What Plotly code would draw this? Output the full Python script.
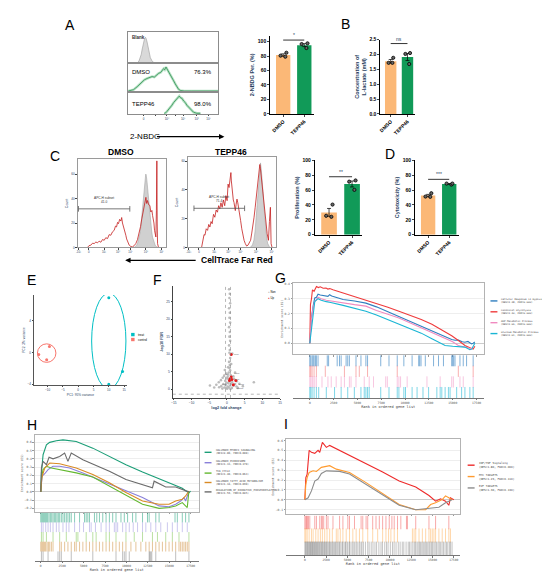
import numpy as np
import plotly.graph_objects as go

W, H = 550, 572
SANS = "Liberation Sans, Arial, sans-serif"
MONO = "DejaVu Sans Mono, monospace"

# ---------------- data ----------------
groups = ["DMSO", "TEPP46"]
bar_colors = ["#fbb877", "#119a58"]

# A / B / D bar charts (individual replicates)
nbdg_dmso = [84.5, 80.5, 79.0]
nbdg_tepp = [97.5, 96.5, 91.0]
lact_dmso = [1.89, 1.72, 1.72]
lact_tepp = [2.05, 2.02, 1.68]
prolif_dmso = [40.5, 25.4, 24.0]
prolif_tepp = [73.0, 71.4, 60.3]
cyto_dmso = [55.8, 50.9, 51.3]
cyto_tepp = [68.8, 67.4, 68.8]

# A: 2-NBDG histograms (fraction of row height)
blank_x = [8, 10, 12, 13.6, 14.5, 15.4, 16.3, 17.3, 18.2, 19.1, 20, 21, 21.9, 22.8, 23.7, 24.6, 26.4, 28.3, 31, 34]
blank_y = [0, 0.02, 0.08, 0.19, 0.3, 0.45, 0.6, 0.76, 0.83, 0.87, 0.82, 0.71, 0.58, 0.45, 0.31, 0.19, 0.09, 0.03, 0.01, 0]
nb_dmso_x = [0, 2, 6, 10, 13, 15.4, 18, 21, 24, 26.5, 29, 31, 33.8, 36, 37.5, 39.3, 40.5, 41.9, 43, 44.9,
             46.5, 48.5, 50.3, 52.2, 54, 55.9, 58, 62, 70, 80, 90, 100]
nb_dmso_y = [0.04, 0.05, 0.09, 0.2, 0.3, 0.4, 0.45, 0.5, 0.54, 0.57, 0.55, 0.62, 0.69, 0.72, 0.8, 0.86, 0.82, 0.92, 0.85, 0.75,
             0.66, 0.52, 0.42, 0.3, 0.2, 0.1, 0.06, 0.04, 0.04, 0.04, 0.04, 0.04]
nb_tepp_x = [40, 41.2, 43, 45, 46.7, 48.5, 50.4, 52, 54, 55.2, 56.6, 58, 59.6, 61.5, 63.2, 65, 66.9, 69.5, 72.4, 76.1, 80]
nb_tepp_y = [0.03, 0.04, 0.12, 0.22, 0.33, 0.42, 0.55, 0.63, 0.75, 0.8, 0.86, 0.78, 0.75, 0.62, 0.55, 0.42, 0.33, 0.18, 0.08, 0.03, 0.03]
nb_pct = ["76.3%", "98.0%"]

# C: CellTrace histograms (counts)
ct_dmso_x = [11.3, 13, 15.1, 17, 18.9, 20.8, 22.6, 24.5, 26.4, 28.3, 30.2, 32, 34, 35.8, 37.7, 39.6, 41.5, 43, 44.2, 45.3,
             46.4, 47.7, 49.1, 50, 50.9, 51.8, 52.8, 53.7, 54.7, 55.6, 56.6, 57.5, 58.5, 60.4, 62.3, 64.1, 66, 67.9, 69.8,
             71.3, 72.8, 74.2, 75.5, 76.4, 77.4, 78.3, 79.2, 80.5, 81.9, 83, 84.2, 85, 85.7, 86.5, 87.2, 88, 88.7, 89.3,
             89.8, 90.2, 90.6, 91.7]
ct_dmso_y = [0, 1.5, 1.9, 3.5, 3.2, 4.5, 3.8, 5.2, 4.3, 6.5, 5.9, 8.0, 7.3, 10.5, 10.0, 12.8, 14.0, 17.5, 16.8, 20.5,
             19.5, 23.0, 21.6, 24.5, 20.0, 18.0, 15.4, 13.0, 10.0, 7.0, 4.6, 3.0, 1.9, 0.8, 0.5, 1.5, 3.2, 6.5, 11.4,
             17.0, 23.5, 30.0, 34.3, 40.0, 41.0, 36.0, 38.4, 35.0, 34.3, 29.0, 30.3, 26.0, 23.5, 20.0, 14.0, 11.0, 8.6,
             30.0, 70.8, 20.0, 3.2, 0]
ct_dmso_ctrl_x = [64, 65.3, 66.6, 67.9, 69.3, 70.6, 71.7, 72.8, 73.8, 74.7, 75.7, 76.6, 77.2, 77.7, 78.5, 79.2, 80.2,
                  81.1, 82, 83, 84, 84.9, 86.4, 87.9, 89.3, 90.6]
ct_dmso_ctrl_y = [0, 0.5, 1.5, 3.2, 6.5, 11.4, 17, 24.9, 33, 41, 50, 57.3, 60, 59.5, 55, 49.2, 41, 33, 26, 19.5, 13,
                  8.6, 4, 1.9, 0.8, 0]
ct_tepp_x = [15.7, 16.5, 17.6, 18.5, 19.5, 21, 22.5, 23.8, 25.1, 26.4, 27.7, 29.2, 30.7, 32.2, 33.7, 35, 36.3, 37.6,
             39, 40.4, 41.9, 43.2, 44.6, 45.7, 46.8, 47.6, 48.3, 48.9, 49.4, 50.2, 50.9, 51.6, 52.4, 53.1, 53.9, 54.8,
             55.8, 56.7, 57.7, 58.8, 59.9, 61.2, 62.5, 63.8, 65.2, 66.7, 68.2, 69.7, 71.2, 72.5, 73.8, 75.1, 76.4,
             77.9, 79.4, 80.5, 81.6, 82.3, 83.1, 84.2, 85.4, 86.5, 87.6, 88.7, 89.9, 90.6, 91.4, 92.5, 93.6, 94.4, 95.5]
ct_tepp_y = [0, 3, 5, 9, 8.5, 13, 11.9, 16, 14.2, 18, 16.5, 23, 21, 26, 24.5, 29, 26.7, 31, 27.9, 33, 29, 36, 32.5,
             44, 41.6, 48, 50.7, 52, 46.2, 40, 37, 33, 31.3, 28, 25.6, 30, 33.6, 31, 27.9, 24, 18.7, 13, 8.5, 5, 2.7,
             1, 1.6, 3, 5, 10, 14.2, 21, 27.9, 36, 46.2, 52, 57.6, 55, 50.7, 44, 37, 31, 25.6, 17, 9.6, 6, 5, 18,
             27.9, 2.7, 0]
ct_tepp_ctrl_x = [70, 71.9, 73.4, 74.9, 76.2, 77.5, 78.5, 79.4, 80.4, 81.3, 81.9, 82.4, 83.3, 84.3, 85.2, 86.1, 87.3,
                  88.4, 89.5, 90.6, 91.8, 92.9]
ct_tepp_ctrl_y = [0, 0.5, 2, 5, 11, 21, 29, 37, 47, 55.3, 58, 58.7, 54, 48.5, 39, 30.2, 20, 11.9, 6, 2.7, 1, 0]
gate_dmso = [1.1, 59.2, 31.6]
gate_tepp = [7.1, 64.4, 27.2]
gate_pct = ["41.0", "71.4"]

# E: PCA
pca_groups = ["treat", "control"]
pca_colors = ["#00BFC4", "#F8766D"]
pc1_treat = [10.0, 14.5, 10.0]
pc2_treat = [6.9, -2.4, -4.0]
pc1_ctrl = [-9.4, -12.9, -10.3]
pc2_ctrl = [0.75, -0.25, -0.9]

# F: volcano
vol_x = [0.6, 0.8, 0.7, 0.9, 0.6, 0.8, 0.7, 0.9, 0.6, 0.8, 0.7, 0.9, 0.6, 0.8, 0.7, 1.5, 0.9, 0.6, 0.8, 0.7,
         0.9, 0.5, -0.2, 0.3, 1.1, -0.8, 0.2, 1.8, -1.2, 0.0, 0.5, 2.0, -1.7, -0.5, 0.8, 1.5, 2.8, -2.3, -0.1,
         0.4, 1.2, -1.0, 2.3, 3.5, -3.0, -0.4, 0.9, 1.9, -1.6, 0.2, 2.7, -2.2, -0.7, 0.6, 1.4, -0.2, 3.1, -1.3,
         0.1, 1.0, -4.8, 7.6, -3.6, 4.5, 2.3, -0.6, 0.3, 1.2]
vol_y = [28.5, 27.2, 26.0, 24.5, 23.1, 21.8, 20.4, 19.0, 17.7, 16.3, 15.0, 13.8, 12.5, 11.2, 10.4, 10.2, 8.9, 7.8,
         6.9, 6.1, 5.4, 4.8, 4.5, 4.2, 4.0, 3.8, 3.6, 3.7, 3.3, 3.1, 2.9, 3.0, 2.6, 2.4, 2.2, 2.1, 2.3, 2.0, 1.9,
         1.7, 1.6, 1.5, 1.5, 1.6, 1.3, 1.2, 1.1, 1.0, 0.9, 0.8, 0.8, 0.6, 0.5, 0.5, 0.4, 0.3, 0.4, 0.2, 0.15,
         0.1, 1.1, 2.0, 0.5, 0.9, 4.8, 5.5, 6.3, 7.2]
up_x = [1.2, 0.9, 1.2, 1.4, 2.5, 1.8, 0.7]
up_y = [9.9, 3.0, 3.5, 2.8, 2.5, 1.3, 2.5]
up_genes = ["Pkm", "Hk2", "Ldha", "Pfkp", "Eno1", "Slc2a1", "Tpi1"]
fc_cuts = [-0.4, 1.0]
fdr_line = -1.4

# GSEA shared
rank_ticks = [0, 2500, 5000, 7500, 10000, 12500, 15000, 17500]

# G
g_names = ["Cellular Response to Hypoxia", "Canonical Glycolysis", "ADP Metabolic Process", "Glucose Metabolic Process"]
g_stats = ["(NES=2.28, FDR=0.000)", "(NES=2.20, FDR=0.000)", "(NES=2.06, FDR=0.000)", "(NES=2.01, FDR=0.000)"]
g_hyp_rank = [0, 100, 173, 350, 520, 700, 866, 1100, 1386, 1700, 1906, 2079, 2300, 3500, 4700, 5890, 7000, 8200,
              9356, 10500, 11700, 12820, 13800, 14500, 14900, 15250, 15600, 16000, 16290, 16600, 16980, 17150, 17325]
g_hyp_es = [0, 0.1, 0.17, 0.25, 0.305, 0.31, 0.33, 0.325, 0.32, 0.318, 0.316, 0.327, 0.318, 0.295, 0.285, 0.27,
            0.245, 0.212, 0.18, 0.148, 0.115, 0.084, 0.055, 0.035, 0.025, 0.02, 0.022, 0.01, 0.007, 0.012, -0.005, 0.0, 0.008]
g_gly_rank = [0, 70, 180, 280, 450, 700, 900, 1100, 1400, 1700, 1900, 2100, 2430, 3500, 4700, 5900, 7000, 8200,
              9360, 10500, 11700, 12820, 13900, 14900, 15600, 16290, 16800, 16980, 17150, 17330]
g_gly_es = [0, 0.26, 0.30, 0.36, 0.35, 0.382, 0.375, 0.38, 0.37, 0.372, 0.365, 0.368, 0.36, 0.338, 0.318, 0.294,
            0.27, 0.243, 0.216, 0.19, 0.16, 0.128, 0.09, 0.05, 0.018, -0.015, -0.03, -0.033, -0.04, -0.02]
g_adp_rank = [0, 150, 347, 520, 866, 1200, 1733, 2200, 3500, 4700, 5890, 7000, 8200, 9356, 10500, 11700, 12820,
              14000, 15000, 15593, 16300, 16980, 17150]
g_adp_es = [0, 0.15, 0.24, 0.28, 0.31, 0.30, 0.29, 0.285, 0.27, 0.26, 0.25, 0.22, 0.195, 0.17, 0.138, 0.105, 0.073,
            0.04, 0.01, -0.015, -0.025, -0.037, -0.025]
g_glu_rank = [0, 173, 350, 520, 866, 1200, 1733, 2200, 3500, 4700, 5890, 7000, 8200, 9356, 10500, 11700, 12820,
              13500, 14207, 15000, 15800, 16286, 16806, 17000, 17325]
g_glu_es = [0, 0.1, 0.22, 0.28, 0.30, 0.29, 0.28, 0.275, 0.255, 0.235, 0.216, 0.19, 0.16, 0.128, 0.1, 0.068, 0.03,
            0.01, -0.015, -0.02, -0.026, -0.026, -0.044, -0.04, 0.0]
g_hits_hyp = [0, 104, 243, 347, 450, 589, 693, 866, 1836, 1975, 2876, 3119, 3292, 3812, 3985, 4158, 4851, 5371, 5891,
              6064, 7450, 8316, 9182, 9875, 10742, 11435, 11538, 11677, 12128, 12994, 13514, 14033, 14900, 15003,
              15107, 15246, 15766, 16112, 16459, 17152]
g_hits_gly = [0, 104, 243, 450, 693, 1629, 3638, 4851, 5198, 6064, 9182, 15593, 17152]
g_hits_adp = [0, 104, 243, 347, 520, 693, 1282, 1906, 2252, 2772, 3292, 3638, 4158, 4331, 4851, 5717, 6237, 6688,
              7970, 8143, 9182, 9355, 9528, 10222, 12301, 13687, 14900, 15073, 15766, 16112, 17152]
g_hits_glu = [0, 104, 243, 450, 693, 936, 1733, 2599, 3292, 3985, 4678, 5371, 5717, 5891, 6064, 6237, 7450, 8316,
              9182, 9355, 9875, 10049, 10742, 11262, 11885, 12474, 13340, 13687, 13860, 14207, 14553, 14727, 15419,
              15939, 16286, 16806, 17152]

# H
h_names = ["HALLMARK_MTORC1_SIGNALING", "HALLMARK_PEROXISOME", "TCA_CYCLE", "HALLMARK_FATTY_ACID_METABOLISM",
           "REGULATION_OF_OXIDATIVE_PHOSPHORYLATION"]
h_stats = ["(NES=2.00, FDR=0.000)", "(NES=1.33, FDR=0.170)", "(NES=1.40, FDR=0.063)", "(NES=1.34, FDR=0.090)",
           "(NES=1.59, FDR=0.085)"]
h_mtor_rank = [0, 77, 271, 658, 1045, 1819, 2593, 4141, 6076, 8011, 9946, 11881, 13816, 15751, 16525, 17105, 17299, 17490]
h_mtor_es = [0, 0.23, 0.45, 0.57, 0.60, 0.62, 0.63, 0.61, 0.53, 0.43, 0.33, 0.24, 0.16, 0.08, 0.044, 0.0, -0.01, 0.01]
h_perox_rank = [0, 155, 464, 851, 1432, 2206, 3367, 4915, 7237, 9946, 11881, 13816, 14977, 15751, 16331, 16718, 16912, 17299]
h_perox_es = [0, 0.19, 0.22, 0.27, 0.31, 0.31, 0.29, 0.23, 0.13, 0.012, -0.068, -0.17, -0.18, -0.15, -0.11, -0.07, -0.11, 0.01]
h_tca_rank = [0, 116, 271, 658, 1238, 2206, 4141, 6076, 8011, 9946, 11881, 13816, 14977, 15751, 16525, 17105, 17299]
h_tca_es = [0, 0.19, 0.27, 0.31, 0.29, 0.27, 0.23, 0.18, 0.07, -0.05, -0.15, -0.20, -0.19, -0.17, -0.13, -0.19, 0.01]
h_fatty_rank = [0, 116, 464, 1045, 2206, 4141, 6076, 8011, 9946, 11881, 13816, 14977, 15751, 16525, 16912, 17299]
h_fatty_es = [0, 0.17, 0.29, 0.35, 0.34, 0.29, 0.21, 0.11, -0.008, -0.11, -0.15, -0.15, -0.11, -0.09, -0.05, 0.01]
h_oxph_rank = [0, 77, 271, 658, 967, 1432, 2206, 2786, 3173, 3560, 4915, 8011, 9946, 11881, 13042, 13236, 13816, 14590, 15751, 16525, 17299]
h_oxph_es = [0, 0.29, 0.37, 0.33, 0.42, 0.40, 0.43, 0.47, 0.37, 0.47, 0.39, 0.25, 0.15, 0.09, 0.05, 0.13, 0.10, 0.06, 0.06, 0.03, 0.0]
h_hits_mtor = [0, 116, 232, 348, 464, 580, 697, 813, 967, 1122, 1277, 1432, 1587, 1741, 1896, 2051, 2206, 2399, 2593,
               2786, 2980, 3173, 3367, 3560, 3947, 4528, 5108, 5302, 5495, 5689, 6269, 6540, 6850, 7237, 7624, 8011,
               8398, 8785, 9365, 9752, 10139, 10720, 11107, 11881, 12461, 12655, 13429, 13816, 15674, 15944, 16525,
               16912, 17299]
h_hits_perox = [77, 271, 580, 851, 1122, 1432, 1819, 2128, 2593, 2980, 3290, 3947, 4528, 4992, 5689, 5882, 6385,
                7044, 7624, 8011, 8591, 8785, 8978, 9559, 9946, 10333, 10797, 11300, 11881, 12268, 12848, 13429,
                14009, 14783, 15364, 15944, 16525, 17105]
h_hits_tca = [77, 271, 658, 1432, 2206, 2980, 4141, 4335, 5302, 6076, 6463, 7624, 8011, 8785, 9946, 10913, 11881,
              13042, 13622, 14590, 15364, 16138, 17299]
h_hits_fatty = [0, 116, 232, 348, 464, 580, 735, 890, 1045, 1238, 1432, 2206, 2399, 2786, 3173, 3560, 3947, 4141,
                4528, 4915, 5302, 5689, 6076, 6463, 6850, 7237, 7624, 8011, 8398, 8785, 9172, 9559, 9946, 10526,
                11107, 11687, 12268, 12655, 13042, 13429, 13816, 14203, 14590, 14977, 15364, 15751, 16138, 16331,
                16525, 16718, 16912, 17105, 17299]
h_hits_oxph = [77, 271, 851, 2012, 2206, 2399, 3560, 6076, 8785, 9559, 9752, 9946, 10333, 12655, 12732, 12848,
               12964, 13429, 15751, 17299]

# I
i_names = ["INF/TNF Signaling", "MYC TARGETS", "E2F TARGETS"]
i_stats = ["(NES=1.80, FDR=0.000)", "(NES=1.23, FDR=0.110)", "(NES=1.30, FDR=0.130)"]
i_tnf_rank = [0, 117, 272, 506, 778, 1167, 1556, 1751, 2062, 2529, 2918, 4085, 5252, 7197, 9142, 11087, 13032,
              14588, 15366, 15949, 16533, 16922, 17116, 17505]
i_tnf_es = [0, 0.225, 0.26, 0.50, 0.48, 0.47, 0.50, 0.48, 0.58, 0.53, 0.55, 0.50, 0.45, 0.36, 0.28, 0.19, 0.13,
            0.044, -0.014, 0.01, -0.014, -0.055, 0.02, 0.0]
i_myc_rank = [0, 117, 272, 506, 972, 1362, 1945, 2529, 2918, 3696, 5252, 7197, 9142, 11087, 13032, 14199, 14782,
              15366, 16144, 16533, 16922, 17311]
i_myc_es = [0, 0.157, 0.225, 0.276, 0.293, 0.287, 0.328, 0.335, 0.345, 0.31, 0.276, 0.174, 0.061, -0.048, -0.10,
            -0.10, -0.048, -0.03, 0.003, 0.04, 0.02, 0.0]
i_e2f_rank = [0, 195, 389, 778, 1167, 1556, 1945, 2529, 3307, 4085, 5252, 7197, 9142, 11087, 13032, 14199, 14977,
              15755, 16533, 16922, 17311]
i_e2f_es = [0, 0.014, 0.02, 0.09, 0.19, 0.21, 0.266, 0.293, 0.293, 0.287, 0.26, 0.157, 0.048, -0.055, -0.10,
            -0.09, -0.082, -0.075, -0.03, -0.014, 0.0]
i_hits_tnf = [0, 117, 195, 311, 428, 583, 1167, 1362, 1751, 1945, 2062, 2217, 2529, 2723, 3307, 4085, 4474, 5057,
              5252, 5835, 6613, 6808, 7197, 7391, 7975, 8364, 8753, 9142, 9531, 9920, 10231, 10503, 10892, 11281,
              11942, 12059, 13032, 14588, 15366, 16922]
i_hits_myc = [0, 117, 272, 506, 778, 972, 1284, 1556, 1828, 2062, 2334, 2607, 2918, 3229, 3696, 3890, 4163, 4474,
              4863, 5252, 5640, 6030, 6419, 6808, 7391, 7975, 8558, 9142, 9531, 9842, 10114, 10503, 10892, 12642,
              12837, 13032, 13420, 13810, 14199, 14588, 14782, 14977, 15171, 15366, 15755, 16144, 16533, 16922, 17116]
i_hits_e2f = [0, 90, 160, 250, 330, 390, 480, 560, 650, 700, 790, 880, 930, 1010, 1120, 1180, 1270, 1350, 1430,
              1500, 1620, 1690, 1770, 1880, 1950, 2060, 2130, 2240, 2310, 2420, 2530, 2600, 2710, 2830, 2900, 3010,
              3150, 3270, 3340, 3480, 3610, 3700, 3850, 3990, 4080, 4230, 4390, 4460, 4620, 4780, 4850, 5010, 5190,
              5260, 5430, 5620, 5770, 5900, 6090, 6240, 6420, 6600, 6710, 6880, 7120, 7390, 7560, 7800, 8010, 8240,
              8430, 8700, 8950, 9120, 9390, 9600, 9780, 10050, 10300, 10490, 10720, 10980, 11200, 11450, 11630,
              11900, 12150, 12300, 12480, 12690, 12870, 13010, 13180, 13320, 13470, 13600, 13750, 13890, 14020,
              14160, 14310, 14450, 14600, 14720, 14880, 15010, 15170, 15320, 15480, 15650, 15800, 15960, 16130,
              16300, 16480, 16650, 16800, 16990, 17120, 17300]

# ---------------- helpers ----------------
fig = go.Figure()
annotations = []
shapes = []
layout_axes = {}


def dx(a, b):
    return [a / W, b / W]


def dy(top, bottom):
    return [1 - bottom / H, 1 - top / H]


def refs(n):
    return ("x", "y") if n == 1 else (f"x{n}", f"y{n}")


def set_axes(n, xd, yd, xkw, ykw):
    xr, yr = refs(n)
    suf = "" if n == 1 else str(n)
    layout_axes["xaxis" + suf] = dict(domain=xd, anchor=yr, **xkw)
    layout_axes["yaxis" + suf] = dict(domain=yd, anchor=xr, **ykw)


def text(px, py, s, size=6, color="black", xanchor="left", family=SANS, weight="normal", **kw):
    annotations.append(dict(x=px / W, y=1 - py / H, xref="paper", yref="paper", text=s, showarrow=False,
                            xanchor=xanchor, yanchor="middle", font=dict(size=size, color=color, family=family,
                                                                         weight=weight), **kw))


def arrow(head_px, tail_px, py):
    # plain arrow drawn by an annotation, tail given as a pixel offset
    annotations.append(dict(x=head_px / W, y=1 - py / H, xref="paper", yref="paper", ax=tail_px - head_px, ay=0,
                            axref="pixel", ayref="pixel", text="", showarrow=True, arrowhead=2, arrowsize=0.9,
                            arrowwidth=1.2, arrowcolor="black"))


def bar_panel(n, xd, yd, dmso, tepp, yrange, tickvals, ytitle, sig_y, sig_txt, tickfmt=None):
    xr, yr = refs(n)
    means = [np.mean(dmso), np.mean(tepp)]
    sems = [np.std(v, ddof=1) / np.sqrt(len(v)) for v in (dmso, tepp)]
    fig.add_trace(go.Bar(x=groups, y=means, width=0.68, marker=dict(color=bar_colors, line=dict(width=0)),
                         error_y=dict(type="data", array=sems, color="black", thickness=0.7, width=2),
                         xaxis=xr, yaxis=yr))
    for g, vals in zip(groups, (dmso, tepp)):
        fig.add_trace(go.Box(x=[g] * len(vals), y=vals, boxpoints="all", jitter=0.8, pointpos=0,
                             fillcolor="rgba(0,0,0,0)", line=dict(color="rgba(0,0,0,0)", width=0),
                             marker=dict(color="#666666", size=3.2, line=dict(color="black", width=0.8)),
                             xaxis=xr, yaxis=yr, hoverinfo="skip"))
    fig.add_trace(go.Scatter(x=groups, y=[sig_y, sig_y], mode="lines", line=dict(color="black", width=0.8),
                             xaxis=xr, yaxis=yr))
    annotations.append(dict(x=0.5, y=sig_y, xref=xr, yref=yr, text=sig_txt, showarrow=False, yanchor="bottom",
                            font=dict(size=5, family=SANS)))
    tf = dict(size=5, family=SANS, color="black", weight="bold")
    set_axes(n, xd, yd,
             dict(type="category", range=[-0.62, 1.45], showline=True, linecolor="black", linewidth=0.8,
                  ticks="outside", ticklen=2, tickwidth=0.8, tickangle=-45, tickfont=tf, showgrid=False),
             dict(range=yrange, tickvals=tickvals, tickformat=tickfmt, showline=True, linecolor="black",
                  linewidth=0.8, ticks="outside", ticklen=2, tickwidth=0.8, tickfont=tf, showgrid=False,
                  zeroline=False, title=dict(text=ytitle, font=dict(size=5.5, family=SANS, weight="bold"), standoff=2)))


# ---------------- A: 2-NBDG histograms ----------------
rows = [(1, blank_x, blank_y, 21, 53), (2, nb_dmso_x, nb_dmso_y, 53, 82), (3, nb_tepp_x, nb_tepp_y, 82, 104)]
for n, hx, hy, top, bot in rows:
    xr, yr = refs(n)
    if n == 1:
        fig.add_trace(go.Scatter(x=hx, y=hy, mode="lines", fill="tozeroy", fillcolor="#d9d9d9",
                                 line=dict(color="#9a9a9a", width=0.6), xaxis=xr, yaxis=yr))
    else:
        fig.add_trace(go.Scatter(x=hx, y=hy, mode="lines", line=dict(color="#b9e2c6", width=2.6),
                                 xaxis=xr, yaxis=yr))
        fig.add_trace(go.Scatter(x=hx, y=hy, mode="lines", line=dict(color="#2f8f52", width=0.8),
                                 xaxis=xr, yaxis=yr))
    last = n == 3
    set_axes(n, dx(119, 210), dy(top, bot),
             dict(range=[0, 100], showline=True, mirror=True, linecolor="#8c8c8c", linewidth=0.6,
                  showgrid=False, zeroline=False, showticklabels=last, ticks="outside" if last else "",
                  ticklen=1.5, tickvals=[17, 30, 43, 52, 61, 76, 89],
                  ticktext=["0", "", "10⁴", "", "10⁵", "10⁶", "10⁷"], tickfont=dict(size=3, family=SANS)),
             dict(range=[0, 1.05], showline=True, mirror=True, linecolor="#8c8c8c", linewidth=0.6,
                  showgrid=False, zeroline=False, showticklabels=False))
text(121, 27, "Blank", size=4.5, color="#333333", weight="bold")
text(121, 62, "DMSO", size=6)
text(121, 94, "TEPP46", size=6)
text(183, 62, nb_pct[0], size=6)
text(183, 94, nb_pct[1], size=6)
text(119, 127, "2-NBDG", size=8)
arrow(216, 147, 127)

# ---------------- A / B / D bars ----------------
bar_panel(4, dx(262, 306), dy(25, 104), nbdg_dmso, nbdg_tepp, [0, 108], [0, 20, 40, 60, 80, 100],
          "2-NBDG Per. (%)", 102, "*")
bar_panel(5, dx(373, 408), dy(29, 104), lact_dmso, lact_tepp, [0, 2.5], [0, 0.5, 1.0, 1.5, 2.0, 2.5],
          "Concentration of<br>L-lactate (mM)", 2.37, "ns", tickfmt=".1f")
bar_panel(8, dx(307, 355), dy(151, 226), prolif_dmso, prolif_tepp, [0, 100], [0, 20, 40, 60, 80, 100],
          "Proliferation (%)", 78, "**")
bar_panel(9, dx(408, 452), dy(151, 226), cyto_dmso, cyto_tepp, [0, 100], [0, 20, 40, 60, 80, 100],
          "Cytotoxicity (%)", 74.5, "***")

# ---------------- C: CellTrace histograms ----------------
flows = [(6, dx(68, 157), dy(150, 239), 72, ct_dmso_ctrl_x, ct_dmso_ctrl_y, ct_dmso_x, ct_dmso_y, gate_dmso, gate_pct[0]),
         (7, dx(179, 268), dy(148, 239), 62.5, ct_tepp_ctrl_x, ct_tepp_ctrl_y, ct_tepp_x, ct_tepp_y, gate_tepp, gate_pct[1])]
for n, xd, yd, ytop, cx, cy, rx, ry, gate, pct in flows:
    xr, yr = refs(n)
    fig.add_trace(go.Scatter(x=cx, y=cy, mode="lines", fill="tozeroy", fillcolor="#d0d0d0",
                             line=dict(color="#a5a5a5", width=0.6), xaxis=xr, yaxis=yr))
    fig.add_trace(go.Scatter(x=rx, y=ry, mode="lines", line=dict(color="#c41e1e", width=0.8), xaxis=xr, yaxis=yr))
    fig.add_trace(go.Scatter(x=gate[:2], y=[gate[2], gate[2]], mode="lines+markers",
                             line=dict(color="#555555", width=0.8),
                             marker=dict(symbol="line-ns", size=4, line=dict(color="#555555", width=0.8)),
                             xaxis=xr, yaxis=yr))
    mid = (gate[0] + gate[1]) / 2
    annotations.append(dict(x=mid, y=gate[2], xref=xr, yref=yr, text="APC-H subset<br>" + pct, showarrow=False,
                            yanchor="bottom", yshift=3, font=dict(size=3.2, family=SANS, color="#333333")))
    set_axes(n, xd, yd,
             dict(range=[0, 100], showline=True, mirror=True, linecolor="#9a9a9a", linewidth=0.6, showgrid=False,
                  zeroline=False, ticks="outside", ticklen=1.5, tickvals=[1, 12.7, 30, 46, 60, 77.5, 95],
                  ticktext=["-10³", "0", "10³", "10⁴", "10⁵", "10⁶", "10⁷"], tickfont=dict(size=2.8, family=SANS)),
             dict(range=[0, ytop], showline=True, mirror=True, linecolor="#9a9a9a", linewidth=0.6, showgrid=False,
                  zeroline=False, ticks="outside", ticklen=1.5, tickvals=[0, 20, 40, 60],
                  tickfont=dict(size=3, family=SANS),
                  title=dict(text="Count", font=dict(size=3.5, family=SANS), standoff=3)))
text(112, 142, "DMSO", size=8.5, xanchor="center", weight="bold")
text(223, 142, "TEPP46", size=8.5, xanchor="center", weight="bold")
text(190, 252, "CellTrace Far Red", size=8.5, weight="bold")
arrow(116, 188, 252)

# ---------------- E: PCA ----------------
xr, yr = refs(10)
for px1, px2, col in [(pc1_treat, pc2_treat, pca_colors[0]), (pc1_ctrl, pc2_ctrl, pca_colors[1])]:
    fig.add_trace(go.Scatter(x=px1, y=px2, mode="markers", marker=dict(color=col, size=3), xaxis=xr, yaxis=yr))
    hx_ = (max(px1) - min(px1)) / 2
    hy_ = (max(px2) - min(px2)) / 2
    mx, my = float(np.median(px1)), (max(px2) + min(px2)) / 2
    rx, ry = hx_ + 0.45 * hy_ + 0.9, hy_ * 1.05 + 0.3
    shapes.append(dict(type="circle", xref=xr, yref=yr, x0=mx - rx, x1=mx + rx, y0=my - ry, y1=my + ry,
                       line=dict(color=col, width=1)))
set_axes(10, dx(24, 118), dy(287, 378),
         dict(range=[-14.5, 16], dtick=5, showline=True, linecolor="#555555", linewidth=0.5, ticks="outside",
              ticklen=1.5, tickfont=dict(size=3, family=SANS), showgrid=False, zeroline=False,
              title=dict(text="PC1: 95% variance", font=dict(size=3.2, family=SANS), standoff=2)),
         dict(range=[-4.1, 7.25], tickvals=[-4, 0, 4], showline=True, linecolor="#555555", linewidth=0.5,
              ticks="outside", ticklen=1.5, tickfont=dict(size=3, family=SANS), showgrid=False, zeroline=False,
              title=dict(text="PC2: 3% variance", font=dict(size=3.2, family=SANS), standoff=2)))
for i, (g, col) in enumerate(zip(pca_groups, pca_colors)):
    yy = 327 + i * 5
    shapes.append(dict(type="rect", xref="paper", yref="paper", x0=122 / W, x1=125.5 / W,
                       y0=1 - (yy + 1.7) / H, y1=1 - (yy - 1.7) / H, fillcolor=col, line=dict(width=0)))
    text(127, yy, g, size=3)

# ---------------- F: volcano ----------------
xr, yr = refs(11)
fig.add_trace(go.Scatter(x=vol_x, y=vol_y, mode="markers", marker=dict(color="#b0b0b0", size=2.6, opacity=0.85),
                         xaxis=xr, yaxis=yr))
fig.add_trace(go.Scatter(x=up_x, y=up_y, mode="markers+text", text=up_genes,
                         textposition=["middle right", "top left", "top right", "middle right", "bottom right",
                                       "bottom right", "bottom left"],
                         textfont=dict(size=2.3, color="#666666", family=SANS),
                         marker=dict(color="#e41a1c", size=3), xaxis=xr, yaxis=yr))
for c in fc_cuts:
    shapes.append(dict(type="line", xref=xr, yref=yr + " domain", x0=c, x1=c, y0=0, y1=1,
                       line=dict(color="#888888", width=0.6, dash="dot")))
shapes.append(dict(type="line", xref=xr + " domain", yref=yr, x0=0, x1=1, y0=fdr_line, y1=fdr_line,
                   line=dict(color="#888888", width=0.6, dash="dot")))
set_axes(11, dx(164, 272), dy(278, 391),
         dict(range=[-15.3, 15], dtick=5, showline=True, linecolor="#444444", linewidth=0.5, ticks="outside",
              ticklen=1.5, tickfont=dict(size=3.3, family=SANS), showgrid=False, zeroline=False,
              title=dict(text="log2 fold change", font=dict(size=3.8, family=SANS, weight="bold"), standoff=2)),
         dict(range=[-2.45, 29.4], dtick=5, showline=True, linecolor="#444444", linewidth=0.5, ticks="outside",
              ticklen=1.5, tickfont=dict(size=3.3, family=SANS), showgrid=False, zeroline=False,
              title=dict(text="-log10 FDR", font=dict(size=3.8, family=SANS, weight="bold"), standoff=2)))
text(258, 284, "<span style='color:#b0b0b0'>●</span> Non", size=2.8)
text(258, 290, "<span style='color:#e41a1c'>●</span> Up", size=2.8)


# ---------------- G / H / I: GSEA ----------------
def gsea_panel(n, box_x, box_y, bar_y, xrng, yrng, curves, hits, colors, hit_colors, names, stats,
               leg_x, leg_ys, msize, leg_font):
    xm, ym = refs(n)
    xb, yb = refs(n + 1)
    for (rk, es), c in zip(curves, colors):
        fig.add_trace(go.Scatter(x=rk, y=es, mode="lines", line=dict(color=c, width=1.1), xaxis=xm, yaxis=ym))
    for i, (h, c) in enumerate(zip(hits, hit_colors)):
        fig.add_trace(go.Scatter(x=h, y=[i + 1] * len(h), mode="markers",
                                 marker=dict(symbol="line-ns", size=msize, line=dict(color=c, width=0.8)),
                                 xaxis=xb, yaxis=yb))
    tf = dict(family=MONO, size=3, color="#555555")
    set_axes(n, dx(*box_x), dy(*box_y),
             dict(range=xrng, tickvals=rank_ticks, showticklabels=False, ticks="outside", ticklen=1.5,
                  tickcolor="#999999", showline=True, mirror=True, linecolor="#b3b3b3", linewidth=0.8,
                  showgrid=False, zeroline=False),
             dict(range=yrng, dtick=0.1, tickformat=".1f", ticks="outside", ticklen=1.5, tickcolor="#999999",
                  tickfont=tf, showline=True, mirror=True, linecolor="#b3b3b3", linewidth=0.8, showgrid=True,
                  gridcolor="#eeeeee", gridwidth=0.5, zeroline=True, zerolinecolor="#cccccc", zerolinewidth=1.2,
                  title=dict(text="Enrichment score (ES)", font=tf, standoff=1)))
    set_axes(n + 1, dx(*box_x), dy(*bar_y),
             dict(range=xrng, tickvals=rank_ticks, tickformat="d", ticks="outside", ticklen=1.5,
                  tickcolor="#777777", tickfont=tf, showline=True, linecolor="#777777", linewidth=0.6,
                  showgrid=False, zeroline=False,
                  title=dict(text="Rank in ordered gene list", font=dict(family=MONO, size=3.6, color="#444444"),
                             standoff=1)),
             dict(range=[len(hits) + 0.5, 0.5], visible=False))
    for c, nm, st, ly in zip(colors, names, stats, leg_ys):
        shapes.append(dict(type="line", xref="paper", yref="paper", x0=leg_x / W, x1=(leg_x + 7) / W,
                           y0=1 - ly / H, y1=1 - ly / H, line=dict(color=c, width=1.4)))
        text(leg_x + 9, ly, nm + "<br>" + st, size=leg_font, color="#444444", family=MONO, align="left")


gsea_panel(12, (285, 477), (275, 347), (348, 391), [-1770, 18240], [-0.075, 0.405],
           [(g_hyp_rank, g_hyp_es), (g_gly_rank, g_gly_es), (g_adp_rank, g_adp_es), (g_glu_rank, g_glu_es)],
           [g_hits_hyp, g_hits_gly, g_hits_adp, g_hits_glu],
           ["#2f7ebf", "#ef3b3c", "#f08ac0", "#19b5d4"],
           ["rgba(47,126,191,0.75)", "rgba(239,59,60,0.5)", "rgba(240,138,192,0.6)", "rgba(25,181,212,0.7)"],
           g_names, g_stats, 484, [293, 304, 315, 326], 8, 2.5)
gsea_panel(14, (25, 190), (428, 506), (507, 556), [-695, 18430], [-0.24, 0.695],
           [(h_mtor_rank, h_mtor_es), (h_perox_rank, h_perox_es), (h_tca_rank, h_tca_es),
            (h_fatty_rank, h_fatty_es), (h_oxph_rank, h_oxph_es)],
           [h_hits_mtor, h_hits_perox, h_hits_tca, h_hits_fatty, h_hits_oxph],
           ["#1b9e77", "#8a80d9", "#63b82f", "#d98a24", "#6b6b6b"],
           ["rgba(27,158,119,0.65)", "rgba(138,128,217,0.55)", "rgba(99,184,47,0.55)", "rgba(200,130,40,0.6)",
            "rgba(107,107,107,0.55)"],
           h_names, h_stats, 196, [446, 456.5, 467, 476.5, 486], 7, 2.6)
gsea_panel(16, (278, 453), (433, 508), (510, 550), [-2217, 18200], [-0.14, 0.61],
           [(i_tnf_rank, i_tnf_es), (i_myc_rank, i_myc_es), (i_e2f_rank, i_e2f_es)],
           [i_hits_tnf, i_hits_myc, i_hits_e2f],
           ["#ee2a2a", "#ff9a2e", "#8c8c8c"],
           ["rgba(238,42,42,0.5)", "rgba(255,154,46,0.5)", "rgba(110,110,110,0.5)"],
           i_names, i_stats, 461, [459, 470.5, 482], 10, 2.8)

# ---------------- panel letters ----------------
for letter, px, py in [("A", 60, 14), ("B", 338, 13), ("C", 45, 147), ("D", 383, 145), ("E", 22, 272),
                       ("F", 149, 272), ("G", 272, 270), ("H", 22, 418), ("I", 278, 417)]:
    text(px, py, letter, size=14, xanchor="center")

fig.update_layout(width=W, height=H, margin=dict(l=0, r=0, t=0, b=0), showlegend=False,
                  plot_bgcolor="white", paper_bgcolor="white", boxmode="overlay",
                  annotations=annotations, shapes=shapes, **layout_axes)
fig.write_html("out.html")
